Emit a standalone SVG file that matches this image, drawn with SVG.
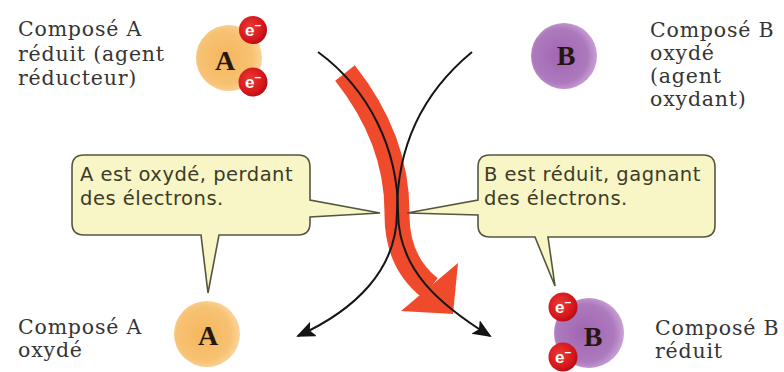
<svg xmlns="http://www.w3.org/2000/svg" width="784" height="372" viewBox="0 0 784 372">
<defs>
<radialGradient id="gA" cx="0.45" cy="0.5" r="0.55">
<stop offset="0" stop-color="#f5b65c"/><stop offset="0.75" stop-color="#f7c274"/><stop offset="1" stop-color="#fad59a"/>
</radialGradient>
<radialGradient id="gB" cx="0.45" cy="0.5" r="0.55">
<stop offset="0" stop-color="#a064b1"/><stop offset="0.75" stop-color="#ad7abd"/><stop offset="1" stop-color="#c9a2d4"/>
</radialGradient>
<radialGradient id="gE" cx="0.4" cy="0.4" r="0.6">
<stop offset="0" stop-color="#ec3a32"/><stop offset="0.8" stop-color="#d5151c"/><stop offset="1" stop-color="#b80f16"/>
</radialGradient>
<marker id="ah" markerUnits="userSpaceOnUse" markerWidth="20" markerHeight="18" refX="17" refY="8" orient="auto">
<path d="M0,0 L19,8 L0,16 L4,8 Z" fill="#141414"/>
</marker>
<style>
.lbl{font-family:"DejaVu Serif","Liberation Serif",serif;font-size:20.5px;letter-spacing:0.8px;fill:#353535}
.bub{fill:#f8f5c6;stroke:#56563f;stroke-width:1.6}
.bt{font-family:"DejaVu Sans","Open Sans",sans-serif;font-size:19.5px;letter-spacing:0.5px;fill:#3c3c28}
.let{font-family:"Liberation Serif","DejaVu Serif",serif;font-weight:bold;font-size:28px;fill:#24180f;text-anchor:middle}
.el{fill:url(#gE)}
.et{font-family:"Liberation Sans","DejaVu Sans",sans-serif;font-weight:bold;font-size:17px;fill:#ffffff}
.conn{fill:none;stroke:#161616;stroke-width:2}
</style>
</defs>
<rect width="784" height="372" fill="#ffffff"/>

<g id="labels">
<text class="lbl" x="18" y="36">Composé A</text>
<text class="lbl" x="18" y="60.5">réduit (agent</text>
<text class="lbl" x="18" y="85">réducteur)</text>
<text class="lbl" x="650" y="37">Composé B</text>
<text class="lbl" x="650" y="60">oxydé</text>
<text class="lbl" x="650" y="83">(agent</text>
<text class="lbl" x="650" y="106">oxydant)</text>
<text class="lbl" x="18" y="334">Composé A</text>
<text class="lbl" x="18" y="357">oxydé</text>
<text class="lbl" x="655" y="335">Composé B</text>
<text class="lbl" x="655" y="358">réduit</text>
</g>

<g id="connectors">
<path d="M345,73 Q398,140 397,215 Q397,262 430,288" fill="none" stroke="#ef4a2c" stroke-width="25"/>
<polygon points="401,311 458,263 453,314" fill="#ef4a2c"/>
<path class="conn" d="M318,52 C370,90 398,150 398,212 C398,270 440,305 490,336" marker-end="url(#ah)"/>
<path class="conn" d="M472,52 C420,95 397,150 397,212 C397,270 355,310 298,336" marker-end="url(#ah)"/>
</g>

<g id="compoundA-reduced">
<circle cx="229" cy="58" r="33" fill="url(#gA)"/>
<text class="let" x="225" y="70">A</text>
<circle class="el" cx="253" cy="30" r="14"/>
<text class="et" x="245" y="36">e<tspan dy="-7" font-size="12">–</tspan></text>
<circle class="el" cx="253" cy="82" r="14.5"/>
<text class="et" x="245" y="88">e<tspan dy="-7" font-size="12">–</tspan></text>
</g>

<g id="compoundB-oxidized">
<circle cx="564" cy="56" r="33" fill="url(#gB)"/>
<text class="let" x="566" y="65">B</text>
</g>

<g id="compoundA-oxidized">
<circle cx="207" cy="334" r="33" fill="url(#gA)"/>
<text class="let" x="208" y="345">A</text>
</g>

<g id="compoundB-reduced">
<circle cx="589" cy="333" r="35" fill="url(#gB)"/>
<text class="let" x="593" y="346">B</text>
<circle class="el" cx="563" cy="307" r="14.5"/>
<text class="et" x="555" y="313">e<tspan dy="-7" font-size="12">–</tspan></text>
<circle class="el" cx="563" cy="357" r="14.5"/>
<text class="et" x="555" y="363">e<tspan dy="-7" font-size="12">–</tspan></text>
</g>

<g id="bubble-left">
<path class="bub" d="M84,155 H298 Q310,155 310,167 V200 L380,213 L310,217 V223 Q310,235 298,235 H219 L208,293 L201,235 H84 Q72,235 72,223 V167 Q72,155 84,155 Z"/>
<text class="bt" x="80" y="181">A est oxydé, perdant</text>
<text class="bt" x="80" y="205">des électrons.</text>
</g>

<g id="bubble-right">
<path class="bub" d="M490,155 H703 Q715,155 715,167 V225 Q715,237 703,237 H548 L555,286 L535,237 H490 Q478,237 478,225 V215 L407,213 L478,200 V167 Q478,155 490,155 Z"/>
<text class="bt" x="484" y="181">B est réduit, gagnant</text>
<text class="bt" x="484" y="205">des électrons.</text>
</g>
</svg>
